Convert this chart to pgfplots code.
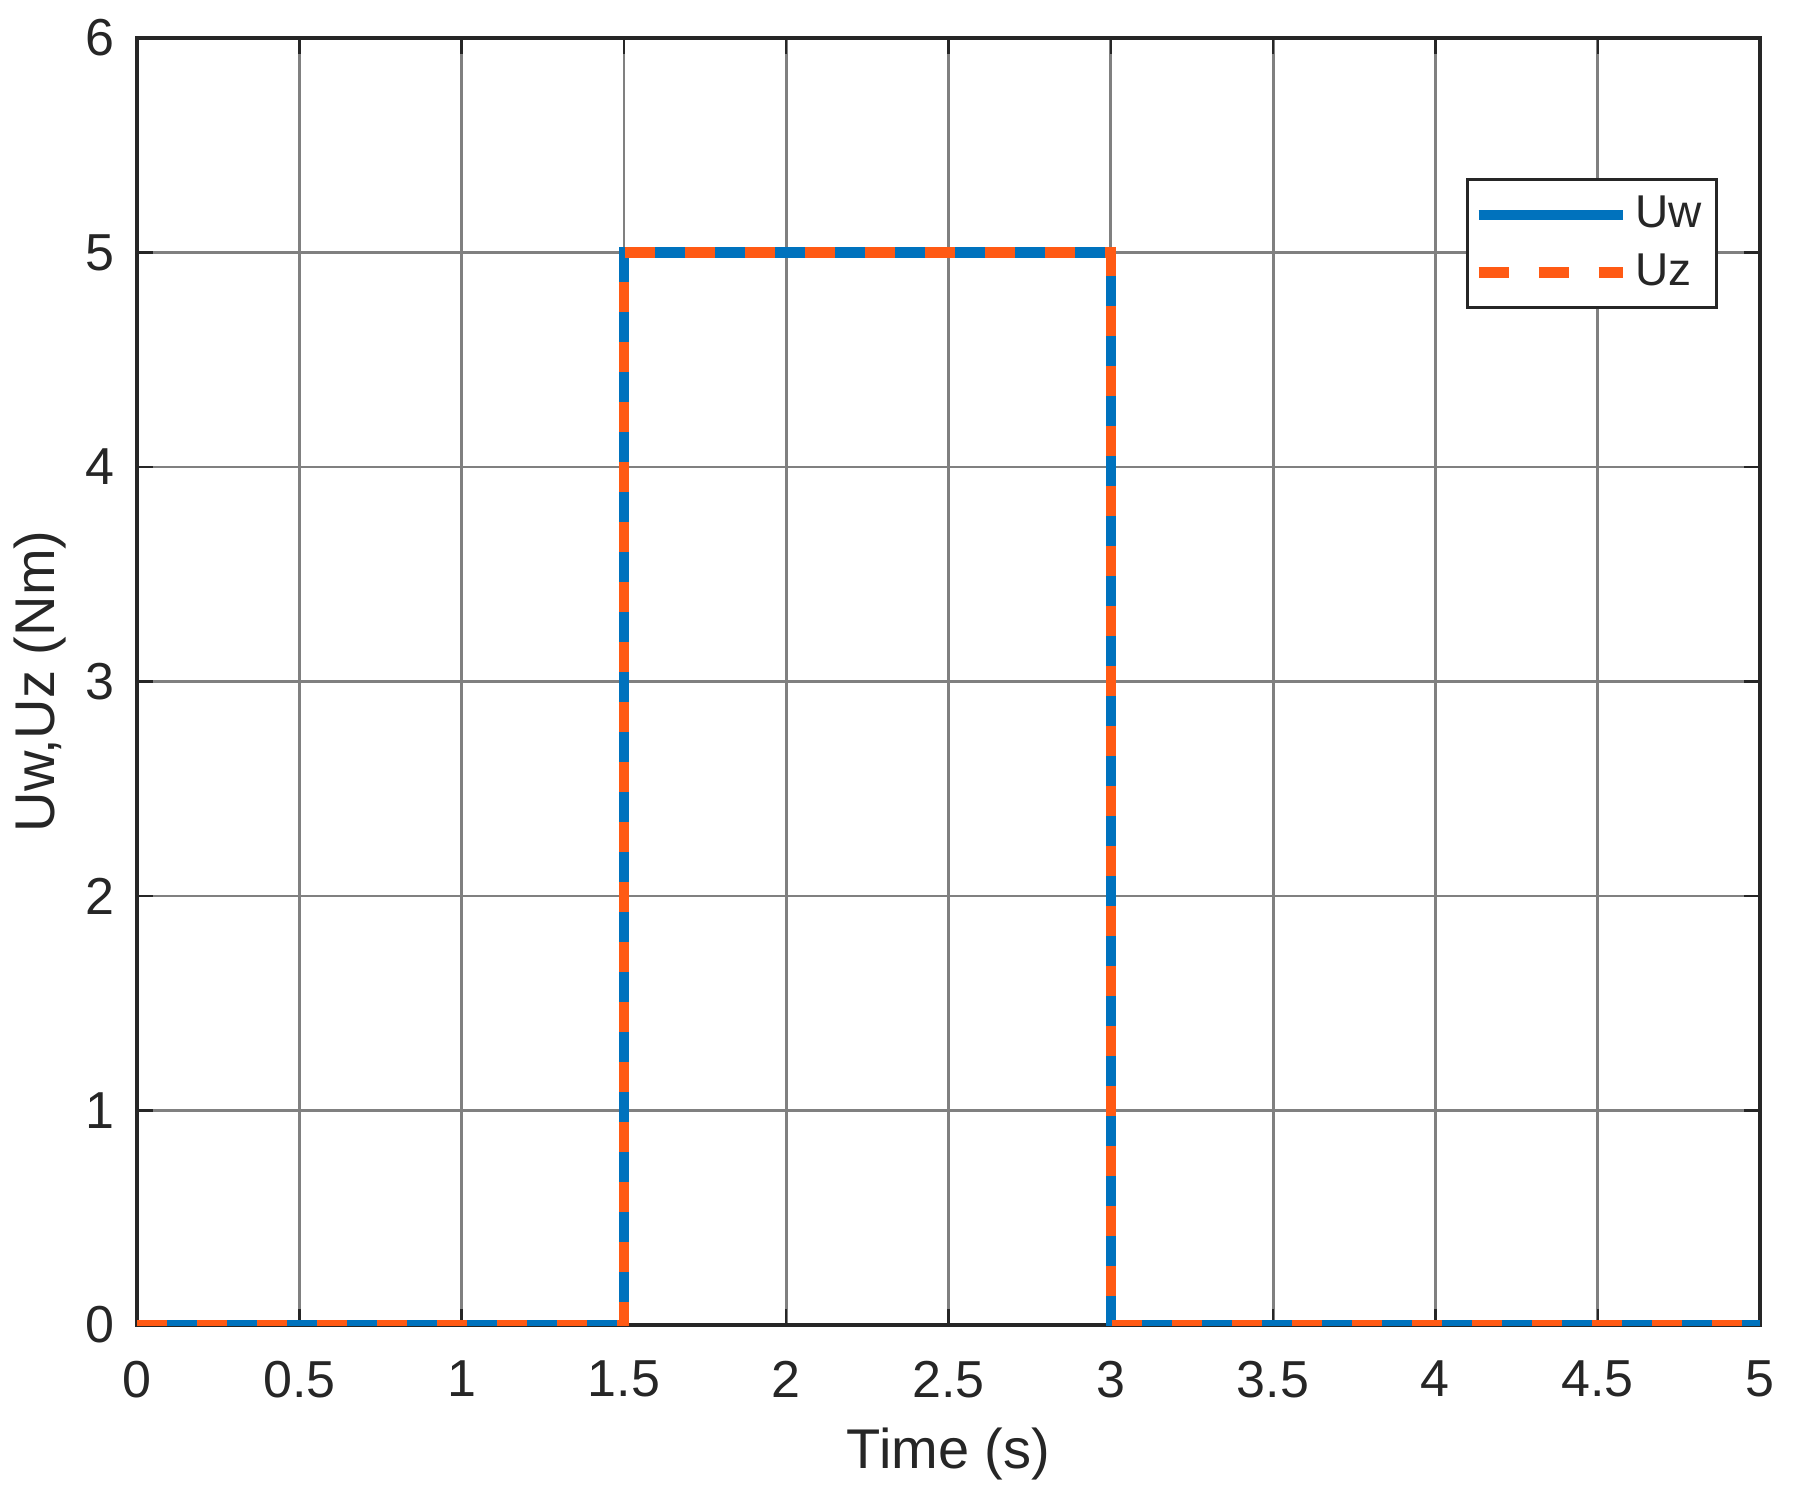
\documentclass[border=0pt]{standalone}
\usepackage{pgfplots}
\pgfplotsset{compat=1.18}
\usepackage{fontspec}
\setmainfont{Liberation Sans}
\definecolor{mblue}{HTML}{0072BD}
\definecolor{morange}{HTML}{FF5A14}
\definecolor{txt}{HTML}{262626}
\begin{document}
\begin{tikzpicture}
\useasboundingbox (-34.25pt,-43.25pt) rectangle (414.25pt,331.25pt);
\begin{axis}[
  at={(0,0)}, anchor=south west,
  scale only axis, width=405.75pt, height=321.75pt,
  xmin=0, xmax=5, ymin=0, ymax=6,
  xtick={0,0.5,...,5}, ytick={0,1,...,6},
  grid=major,
  major grid style={line width=0.7pt, color=black!50},
  axis line style={line width=0.8pt, color=txt},
  tick align=inside, major tick length=4pt,
  tick style={color=txt, line width=0.6pt},
  /pgf/number format/assume math mode=true,
  ticklabel style={font=\fontsize{13}{15}\selectfont, text=txt},
  xticklabel style={yshift=-5.5pt},
  yticklabel style={xshift=-2pt},
  xlabel={Time (s)}, ylabel={Uw,Uz (Nm)},
  label style={font=\fontsize{14}{16}\selectfont, text=txt},
  xlabel style={at={(axis description cs:0.5,-0.1)}, anchor=center},
  ylabel style={at={(axis description cs:-0.06,0.5)}, anchor=center, rotate=0},
  legend style={at={(axis description cs:0.974,0.891)}, anchor=north east,
    draw=txt, line width=0.8pt, font=\fontsize{11.5}{13}\selectfont, text=txt,
    inner xsep=1.5pt, inner ysep=2pt, row sep=1pt,
    nodes={inner xsep=2pt, inner ysep=2pt}},
  legend cell align=left,
  legend image code/.code={\draw[#1] (0pt,0pt) -- (36pt,0pt);},
]
\addplot[mblue, line width=2.6pt, line join=miter] coordinates {
 (0,0) (1.5,0) (1.5,5) (3,5) (3,0) (5,0)};
\addlegendentry{Uw}
\addplot[morange, line width=2.6pt, line join=miter, dash pattern=on 7.5pt off 7.5pt] coordinates {
 (0,0) (1.5,0) (1.5,5) (3,5) (3,0) (5,0)};
\addlegendentry{Uz}
\end{axis}
\end{tikzpicture}
\end{document}
